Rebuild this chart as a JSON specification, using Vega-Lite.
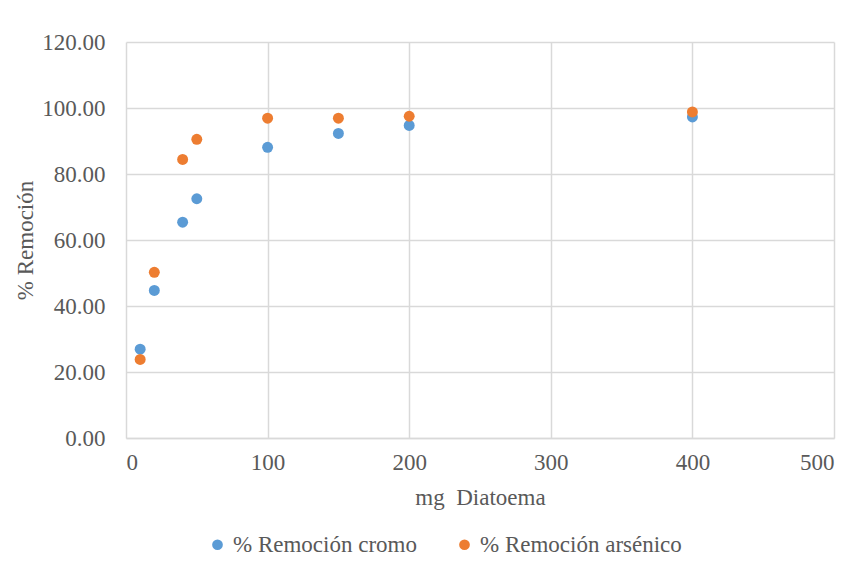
{
  "$schema": "https://vega.github.io/schema/vega-lite/v6.json",
  "width": 708,
  "height": 396,
  "autosize": "none",
  "padding": {"left": 126, "top": 42, "right": 30, "bottom": 131},
  "background": "white",
  "data": {
    "values": [
      {"mg": 10, "serie": "% Remoción cromo", "remocion": 26.9},
      {"mg": 20, "serie": "% Remoción cromo", "remocion": 44.7},
      {"mg": 40, "serie": "% Remoción cromo", "remocion": 65.4},
      {"mg": 50, "serie": "% Remoción cromo", "remocion": 72.5},
      {"mg": 100, "serie": "% Remoción cromo", "remocion": 88.1},
      {"mg": 150, "serie": "% Remoción cromo", "remocion": 92.3},
      {"mg": 200, "serie": "% Remoción cromo", "remocion": 94.7},
      {"mg": 400, "serie": "% Remoción cromo", "remocion": 97.3},
      {"mg": 10, "serie": "% Remoción arsénico", "remocion": 23.8},
      {"mg": 20, "serie": "% Remoción arsénico", "remocion": 50.2},
      {"mg": 40, "serie": "% Remoción arsénico", "remocion": 84.4},
      {"mg": 50, "serie": "% Remoción arsénico", "remocion": 90.5},
      {"mg": 100, "serie": "% Remoción arsénico", "remocion": 96.9},
      {"mg": 150, "serie": "% Remoción arsénico", "remocion": 96.9},
      {"mg": 200, "serie": "% Remoción arsénico", "remocion": 97.5},
      {"mg": 400, "serie": "% Remoción arsénico", "remocion": 98.8}
    ]
  },
  "mark": {"type": "point", "filled": true, "opacity": 1, "size": 120, "shape": "circle"},
  "encoding": {
    "x": {
      "field": "mg",
      "type": "quantitative",
      "scale": {"domain": [0, 500], "nice": false},
      "axis": {
        "title": "mg\u00a0 Diatoema",
        "values": [0, 100, 200, 300, 400, 500],
        "grid": true,
        "ticks": false,
        "labelPadding": 13,
        "titlePadding": 12
      }
    },
    "y": {
      "field": "remocion",
      "type": "quantitative",
      "scale": {"domain": [0, 120], "nice": false},
      "axis": {
        "title": "% Remoción",
        "values": [0, 20, 40, 60, 80, 100, 120],
        "format": ".2f",
        "grid": true,
        "ticks": false,
        "domain": false,
        "labelPadding": 21,
        "titlePadding": 4
      }
    },
    "color": {
      "field": "serie",
      "type": "nominal",
      "sort": ["% Remoción cromo", "% Remoción arsénico"],
      "scale": {"range": ["#5B9BD5", "#ED7D31"]},
      "legend": {
        "title": null,
        "orient": "none",
        "direction": "horizontal",
        "legendX": 80,
        "legendY": 491,
        "symbolSize": 115,
        "symbolType": "circle",
        "labelFont": "Liberation Serif",
        "labelFontSize": 23,
        "labelColor": "#595959",
        "labelLimit": 0,
        "columnPadding": 36,
        "labelOffset": 4
      }
    }
  },
  "config": {
    "font": "Liberation Serif",
    "view": {"stroke": null},
    "axis": {
      "labelFont": "Liberation Serif",
      "labelFontSize": 23,
      "labelColor": "#595959",
      "titleFont": "Liberation Serif",
      "titleFontSize": 23,
      "titleFontWeight": "normal",
      "titleColor": "#595959",
      "gridColor": "#D9D9D9",
      "gridWidth": 1.5,
      "domainColor": "#D9D9D9",
      "domainWidth": 1.5
    }
  }
}
